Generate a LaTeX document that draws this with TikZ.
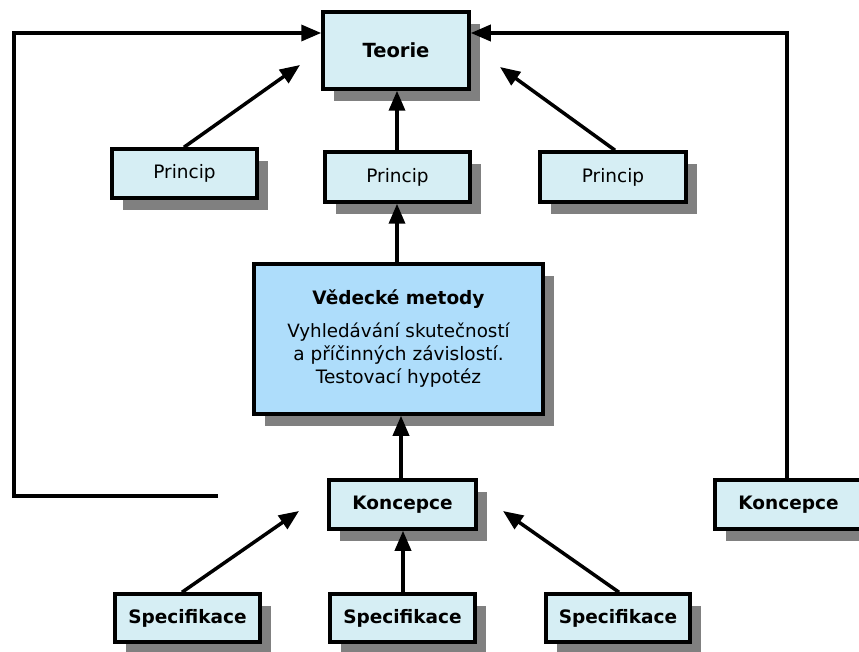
\documentclass[tikz,border=0pt]{standalone}
\usepackage{fontspec}
\setmainfont{DejaVu Sans}
\usetikzlibrary{arrows.meta,shadows}
\definecolor{boxfill}{HTML}{D6EEF4}
\definecolor{mainfill}{HTML}{AEDDFB}
\begin{document}
\begin{tikzpicture}[x=1pt,y=-1pt,
  box/.style={draw=black,line width=3.5pt,fill=boxfill,rectangle,inner sep=0pt,
    font=\fontsize{18.5}{23}\selectfont,
    drop shadow={shadow xshift=11pt,shadow yshift=-12pt,fill=black!50,opacity=1}},
  boldbox/.style={box,font=\fontsize{18.5}{23}\selectfont\bfseries},
  conn/.style={line width=3.5pt,-{Triangle[length=20pt,width=16pt]}}]
\useasboundingbox (0,0) rectangle (859,652);
\node[boldbox,minimum width=146pt,minimum height=77pt,font=\fontsize{19.5}{23}\selectfont\bfseries] (teorie) at (396,50.5) {Teorie};
\node[box,minimum width=145pt,minimum height=49pt] (pl) at (184.5,173.5) {Princip};
\node[box,minimum width=145pt,minimum height=50pt] (pm) at (397.5,177) {Princip};
\node[box,minimum width=146pt,minimum height=50pt] (pr) at (613,177) {Princip};
\node[box,fill=mainfill,minimum width=289pt,minimum height=150pt,align=center] (vm) at (398.5,339)
  {{\bfseries Vědecké metody}\\[10pt]\fontsize{18.3}{24.5}\selectfont Vyhledávání skutečností\\a příčinných závislostí.\\Testovací hypotéz};
\node[boldbox,minimum width=147pt,minimum height=49pt] (km) at (402.5,504.5) {Koncepce};
\node[boldbox,minimum width=147pt,minimum height=49pt] (kr) at (788.5,504.5) {Koncepce};
\node[boldbox,minimum width=145pt,minimum height=48pt] (sl) at (187.5,618) {Specifikace};
\node[boldbox,minimum width=145pt,minimum height=48pt] (sm) at (402.5,618) {Specifikace};
\node[boldbox,minimum width=144pt,minimum height=48pt] (sr) at (618,618) {Specifikace};
\coordinate (lstart) at (218,496);
\coordinate (tl) at (300,65);
\coordinate (tr) at (500,67);
\coordinate (kl) at (299,511);
\coordinate (krt) at (503,511);
% loops
\draw[conn] (lstart) -- (14,496) -- (14,33) -- (teorie.west |- 0,33);
\draw[conn] (kr.north -| 787,0) -- (787,33) -- (teorie.east |- 0,33);
% diagonals
\draw[conn] (pl.north -| 184,0) -- (tl);
\draw[conn] (pr.north -| 615,0) -- (tr);
\draw[conn] (sl.north -| 182,0) -- (kl);
\draw[conn] (sr.north -| 619,0) -- (krt);
% verticals
\draw[conn] (pm.north -| 397,0) -- (teorie.south -| 397,0);
\draw[conn] (vm.north -| 397,0) -- (pm.south -| 397,0);
\draw[conn] (km.north -| 401,0) -- (vm.south -| 401,0);
\draw[conn] (sm.north -| 403,0) -- (km.south -| 403,0);
\end{tikzpicture}
\end{document}
